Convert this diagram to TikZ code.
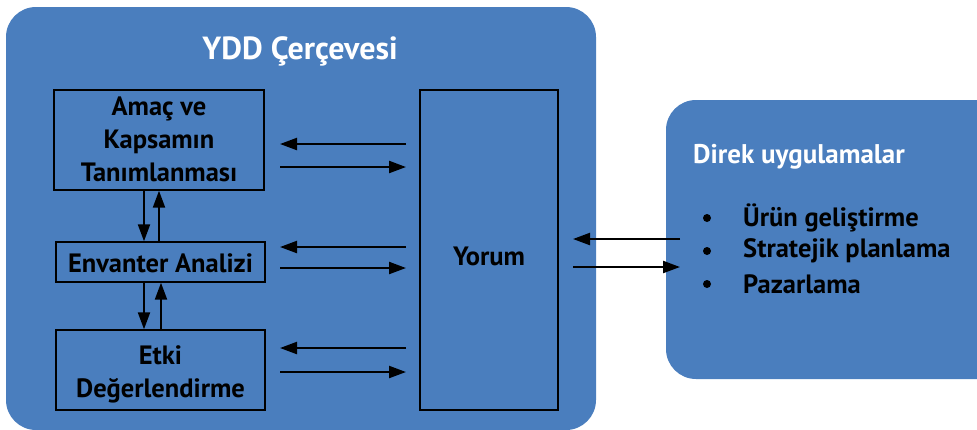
\documentclass[tikz,border=0pt]{standalone}
\usepackage{fontspec}
\setmainfont{PT Sans}
\usetikzlibrary{arrows.meta}
\definecolor{panel}{RGB}{74,126,190}
\begin{document}
\begin{tikzpicture}[x=1pt,y=-1pt,
  panelbox/.style={fill=panel,rounded corners=30pt},
  stepbox/.style={draw=black,line width=1.4pt,fill=panel,inner sep=0pt},
  boxtext/.style={font=\bfseries\fontsize{26.5}{33}\selectfont,align=center,text=black},
  itemtext/.style={anchor=west,inner sep=0pt,font=\bfseries\fontsize{26.5}{30}\selectfont},
  link/.style={line width=2.2pt,-{Triangle[length=17pt,width=12pt]}}]
\useasboundingbox (0,0) rectangle (977,429);
\begin{scope}
\clip (0,0) rectangle (977,429);
% framework panel and applications panel
\fill[panelbox] (6,7) rectangle (596,430);
\fill[panelbox] (666,100) rectangle (1010,379);
\end{scope}
\node[font=\bfseries\fontsize{32}{36}\selectfont,text=white] (title) at (300,51) {YDD Çerçevesi};
% phase boxes
\node[stepbox,minimum width=210pt,minimum height=100pt] (goal) at (159,140) {};
\node[boxtext] at ([yshift=1pt]goal.center) {Amaç ve\\Kapsamın\\Tanımlanması};
\node[stepbox,minimum width=209pt,minimum height=40pt] (inv) at (160.5,262) {};
\node[boxtext] at ([yshift=-1pt]inv.center) {Envanter Analizi};
\node[stepbox,minimum width=209pt,minimum height=80pt] (imp) at (160.5,370) {};
\node[boxtext] at ([yshift=-4pt]imp.center) {Etki\\Değerlendirme};
\node[stepbox,minimum width=138pt,minimum height=320pt] (yorum) at (489,250) {};
\node[boxtext] at ([yshift=-6pt]yorum.center) {Yorum};
% applications list
\node[itemtext,text=white,font=\bfseries\fontsize{27}{30}\selectfont] (apps) at (693,157) {Direk uygulamalar};
\node[itemtext] (b1) at (743,218) {Ürün geliştirme};
\node[itemtext] (b2) at (743,251) {Stratejik planlama};
\node[itemtext] (b3) at (743,284) {Pazarlama};
\foreach \n in {b1,b2,b3}{\fill (707,0 |- \n.center) circle (4pt);}
% arrows between phases and interpretation
\foreach \b/\ya/\yb in {goal/144/167, inv/247/268, imp/348/372}{
  \draw[link] (406,\ya) -- (280,\ya);
  \draw[link] (280,\yb) -- (406,\yb);
}
% arrows between consecutive phases
\draw[link] (144,0 |- goal.south) -- (144,0 |- inv.north);
\draw[link] (159,0 |- inv.north) -- (159,0 |- goal.south);
\draw[link] (144,0 |- inv.south) -- (144,0 |- imp.north);
\draw[link] (161,0 |- imp.north) -- (161,0 |- inv.south);
% arrows between interpretation and applications
\draw[link] (680,239) -- (573,239);
\draw[link] (573,267) -- (680,267);
\end{tikzpicture}
\end{document}
